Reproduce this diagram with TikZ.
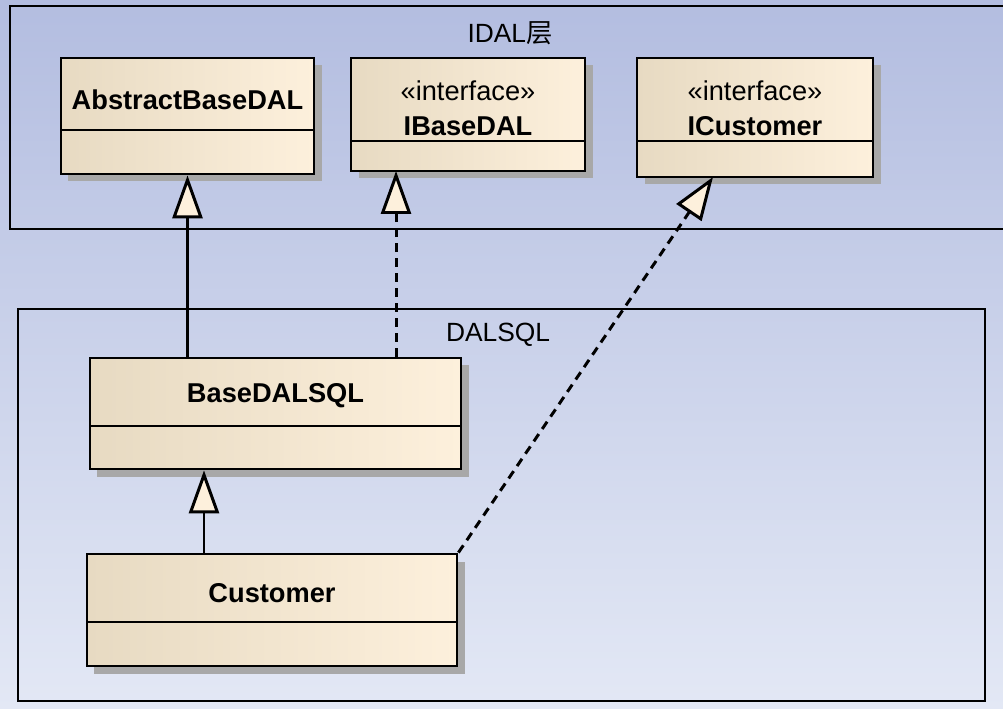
\documentclass[tikz,border=0pt]{standalone}
\usepackage{fontspec}
\setmainfont{Liberation Sans}
\newfontfamily\cjk{Noto Sans CJK SC}
\usetikzlibrary{arrows.meta,fit,shadows}
\definecolor{bgtop}{HTML}{B3BDE0}
\definecolor{bgbottom}{HTML}{E3E8F5}
\definecolor{classleft}{HTML}{E7DAC2}
\definecolor{classright}{HTML}{FDF0DC}
\definecolor{shadowgray}{HTML}{A8A8A8}
\tikzstyle{package}=[draw=black,line width=1.3pt,inner sep=0pt]
\tikzstyle{classbox}=[draw=black,line width=1.6pt,inner sep=0pt,left color=classleft,right color=classright,drop shadow={shadow xshift=0.15cm,shadow yshift=-0.15cm,fill=shadowgray,opacity=1}]

\begin{document}
\begin{tikzpicture}[x=0.02cm,y=-0.02cm]
\tikzstyle{classname}=[font=\fontsize{15.5}{18}\selectfont\bfseries]
\tikzstyle{stereotype}=[font=\fontsize{15.5}{18}\selectfont]
\tikzstyle{pkglabel}=[font=\fontsize{15}{18}\selectfont]
\tikzstyle{divider}=[line width=1.6pt]
\tikzstyle{generalize}=[line width=1.7pt,-{Triangle[length=0.86cm,width=0.6cm,fill=classright]}]
\tikzstyle{realize}=[generalize,dash pattern=on 5pt off 3.5pt]
\useasboundingbox (0,0) rectangle (1003,709);
\fill[top color=bgtop,bottom color=bgbottom] (0,0) rectangle (1003,709);
\clip (0,0) rectangle (1003,709);
% packages
\node[package,fit={(10,6) (1010,229)}] (idal) {};
\node[pkglabel] (idalLabel) at (510,33) {IDAL{\cjk 层}};
\node[package,fit={(18,309) (985,701)}] (dalsql) {};
\node[pkglabel] (dalsqlLabel) at (498,335) {DALSQL};
% IDAL classes
\node[classbox,fit={(61,58) (314,174)}] (abd) {};
\node[classname] (abdName) at (187.5,100) {AbstractBaseDAL};
\draw[divider] (61,130) -- (314,130);
\node[classbox,fit={(351,58) (585,171)}] (ibd) {};
\node[stereotype] (ibdStereo) at (468,91) {«interface»};
\node[classname] (ibdName) at (468,126) {IBaseDAL};
\draw[divider] (351,141) -- (585,141);
\node[classbox,fit={(637,58) (873,177)}] (icust) {};
\node[stereotype] (icustStereo) at (755,91) {«interface»};
\node[classname] (icustName) at (755,126) {ICustomer};
\draw[divider] (637,141) -- (873,141);
% DALSQL classes
\node[classbox,fit={(90,358) (461,469)}] (bsql) {};
\node[classname] (bsqlName) at (275.5,396) {BaseDALSQL};
\draw[divider] (90,426) -- (461,426);
\node[classbox,fit={(87,554) (457,666)}] (cust) {};
\node[classname] (custName) at (272,593) {Customer};
\draw[divider] (87,622) -- (457,622);
% relations
\coordinate (ibdIn) at (396,171);
\coordinate (custOut) at (204,554);
\coordinate (icustIn) at (713,177);
\draw[generalize] (bsql.north -| abd.south) -- (abd.south);
\draw[realize] (bsql.north -| ibdIn) -- (ibdIn);
\draw[generalize] (custOut) -- (custOut |- bsql.south);
\draw[realize] (cust.north east) -- (icustIn);
\end{tikzpicture}
\end{document}
